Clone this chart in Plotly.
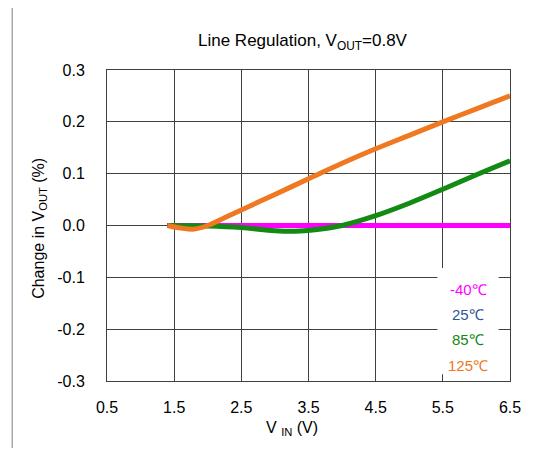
import plotly.graph_objects as go

# Données
vin_flat = [1.4, 2.0, 3.0, 4.0, 5.0, 6.0, 6.5]
d_m40 = [0.0, 0.0, 0.0, 0.0, 0.0, 0.0, 0.0]
d_25 = [0.0, 0.0, 0.0, 0.0, 0.0, 0.0, 0.0]

vin_85 = [1.4, 2.0, 2.5, 3.0, 3.3, 3.6, 4.0, 4.5, 5.0, 5.5, 6.0, 6.5]
d_85 = [0.0, -0.001, -0.004, -0.010, -0.011, -0.008, 0.0, 0.019, 0.043, 0.070, 0.098, 0.125]

vin_125 = [1.4, 1.6, 1.8, 2.0, 2.25, 2.5, 3.0, 3.5, 4.0, 4.5, 5.0, 5.5, 6.0, 6.5]
d_125 = [0.0, -0.005, -0.007, 0.0, 0.015, 0.030, 0.060, 0.090, 0.120, 0.148, 0.174, 0.200, 0.225, 0.250]

x_ticks = [0.5, 1.5, 2.5, 3.5, 4.5, 5.5, 6.5]
x_labels = ['0.5', '1.5', '2.5', '3.5', '4.5', '5.5', '6.5']
y_ticks = [-0.3, -0.2, -0.1, 0.0, 0.1, 0.2, 0.3]
y_labels = ['-0.3', '-0.2', '-0.1', '0.0', '0.1', '0.2', '0.3']

series = [
    ('-40℃', vin_flat, d_m40, '#FF00FF'),
    ('25℃', vin_flat, d_25, '#2F5597'),
    ('85℃', vin_85, d_85, '#138A13'),
    ('125℃', vin_125, d_125, '#F07820'),
]
draw_order = [1, 0, 2, 3]

FONT = "Liberation Sans, Arial, sans-serif"
GRID = '#404040'

# géométrie (la page ajoute 8 px de marge au body)
L, T, PW, PH = 99, 62, 408, 311
W, H = 525, 440

def px(x):
    return (x - L) / PW

def py(y):
    return (T + PH - y) / PH

fig = go.Figure()
for i in draw_order:
    name, x, y, col = series[i]
    fig.add_trace(go.Scatter(
        x=x, y=y, mode='lines', name=name,
        line=dict(color=col, width=5, shape='spline', smoothing=1.0),
        showlegend=False
    ))

# "Légende" en texte coloré sur fond blanc
fig.add_shape(type="rect", x0=5.42, x1=6.33, y0=-0.287, y1=-0.082,
              xref="x", yref="y", fillcolor="white", line=dict(width=0),
              layer="above")
leg_y = [-0.124, -0.171, -0.219, -0.270]
for (name, _, _, col), yy in zip(series, leg_y):
    fig.add_annotation(x=5.88, y=yy, xref="x", yref="y", text=name,
                       xanchor='center', yanchor='middle',
                       showarrow=False, font=dict(size=15, color=col, family=FONT))

# Cadre extérieur (bord gauche)
fig.add_shape(type="line", xref="paper", yref="paper",
              x0=px(3), x1=px(3), y0=-0.5, y1=1.5,
              line=dict(color="#808080", width=1))

fig.add_annotation(text="Line Regulation, V<sub>OUT</sub>=0.8V",
                   xref="paper", yref="paper", x=px(297), y=py(34),
                   xanchor='center', yanchor='middle',
                   showarrow=False, font=dict(size=17, color="black", family=FONT))
fig.add_annotation(text="Change in V<sub>OUT</sub> (%)", textangle=-90,
                   xref="paper", yref="paper", x=px(30), y=py(220),
                   xanchor='center', yanchor='middle',
                   showarrow=False, font=dict(size=16, color="black", family=FONT))
fig.add_annotation(text="V <sub>IN</sub> (V)",
                   xref="paper", yref="paper", x=px(286), y=py(420),
                   xanchor='center', yanchor='middle',
                   showarrow=False, font=dict(size=16, color="black", family=FONT))

fig.update_layout(
    width=W, height=H,
    margin=dict(l=L, r=W - L - PW, t=T, b=H - T - PH),
    plot_bgcolor='white', paper_bgcolor='white',
    xaxis=dict(range=[0.5, 6.5], tickvals=x_ticks, ticktext=x_labels,
               showgrid=True, gridcolor=GRID, gridwidth=1, zeroline=False,
               showline=True, mirror=True, linecolor=GRID, linewidth=1,
               ticks='', ticklabelstandoff=12,
               tickfont=dict(size=16, color='black', family=FONT)),
    yaxis=dict(range=[-0.3, 0.3], tickvals=y_ticks, ticktext=y_labels,
               showgrid=True, gridcolor=GRID, gridwidth=1, zeroline=False,
               showline=True, mirror=True, linecolor=GRID, linewidth=1,
               ticks='', ticklabelstandoff=18,
               tickfont=dict(size=16, color='black', family=FONT)),
)

fig.write_html("out.html")
